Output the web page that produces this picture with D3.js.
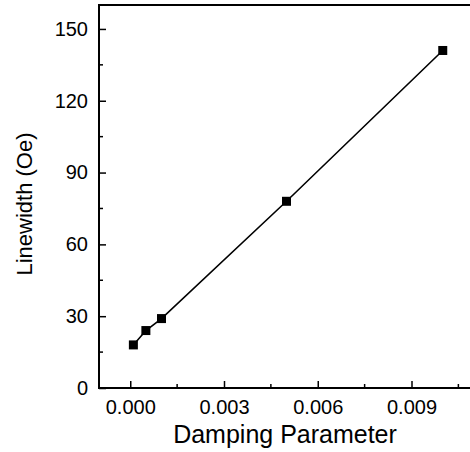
<!DOCTYPE html>
<html>
<head>
<meta charset="utf-8">
<script src="https://cdn.jsdelivr.net/npm/d3@7"></script>
<style>
  body { margin: 0; background: #fff; }
  svg { display: block; font-family: "Liberation Sans", Arial, sans-serif; }
</style>
</head>
<body>
<div id="chart"></div>
<script>
// Set up conventions
let width = 470;
let height = 452;
let margin = ({top: 5, right: -4, bottom: 64, left: 99});

// Data
let damping = [0.0001, 0.0005, 0.001, 0.005, 0.01];
let linewidth = [18, 24, 29, 78, 141];
let xTicks = [0, 0.003, 0.006, 0.009];
let yTicks = [0, 30, 60, 90, 120, 150];

let svg = d3.select("#chart")
    .append("svg")
    .attr("width", width)
    .attr("height", height)

let xScale = d3.scaleLinear()
    .domain([-0.001, 0.011])
    .range([margin.left, width - margin.right])

let yScale = d3.scaleLinear()
    .domain([0, 160])
    .range([height - margin.bottom, margin.top])

let x0 = margin.left, x1 = width - margin.right
let y0 = height - margin.bottom, y1 = margin.top

// Frame
svg.append("rect")
    .attr("x", x0).attr("y", y1)
    .attr("width", x1 - x0).attr("height", y0 - y1)
    .attr("fill", "none")
    .attr("stroke", "black")
    .attr("stroke-width", 2)

// Bottom axis, ticks pointing inward
let xAxis = d3.axisBottom(xScale)
    .tickValues(xTicks)
    .tickSize(-7)
    .tickPadding(12)
    .tickFormat(d3.format(".3f"))

let gx = svg.append("g")
    .attr("transform", "translate(0," + y0 + ")")
    .call(xAxis)
gx.select(".domain").remove()
gx.selectAll("line").attr("stroke-width", 1.5)
gx.selectAll("text").attr("font-size", 20).attr("fill", "black")

// minor x ticks
svg.append("g")
    .selectAll("line")
    .data([0.0015, 0.0045, 0.0075, 0.0105])
    .enter()
    .append("line")
    .attr("x1", d => xScale(d)).attr("x2", d => xScale(d))
    .attr("y1", y0).attr("y2", y0 - 4)
    .attr("stroke", "black")
    .attr("stroke-width", 1.5)

// Left axis, ticks pointing inward
let yAxis = d3.axisLeft(yScale)
    .tickValues(yTicks)
    .tickSize(-7)
    .tickPadding(11)

let gy = svg.append("g")
    .attr("transform", "translate(" + x0 + ",0)")
    .call(yAxis)
gy.select(".domain").remove()
gy.selectAll("line").attr("stroke-width", 1.5)
gy.selectAll("text").attr("font-size", 20).attr("fill", "black")

// minor y ticks
svg.append("g")
    .selectAll("line")
    .data([15, 45, 75, 105, 135])
    .enter()
    .append("line")
    .attr("x1", x0).attr("x2", x0 + 4)
    .attr("y1", d => yScale(d)).attr("y2", d => yScale(d))
    .attr("stroke", "black")
    .attr("stroke-width", 1.5)

// Line and markers
let pts = damping.map((d, i) => [d, linewidth[i]])

svg.append("path")
    .datum(pts)
    .attr("fill", "none")
    .attr("stroke", "black")
    .attr("stroke-width", 1.6)
    .attr("d", d3.line().x(d => xScale(d[0])).y(d => yScale(d[1])))

svg.selectAll(".pt")
    .data(pts)
    .enter()
    .append("rect")
    .attr("class", "pt")
    .attr("x", d => xScale(d[0]) - 4.5)
    .attr("y", d => yScale(d[1]) - 4.5)
    .attr("width", 9)
    .attr("height", 9)
    .attr("fill", "black")

// Axis titles
svg.append("text")
    .attr("x", 285)
    .attr("y", 443)
    .attr("text-anchor", "middle")
    .attr("font-size", 25)
    .text("Damping Parameter")

svg.append("text")
    .attr("transform", "translate(32," + 204 + ") rotate(-90)")
    .attr("text-anchor", "middle")
    .attr("font-size", 22)
    .text("Linewidth (Oe)")
</script>
</body>
</html>
